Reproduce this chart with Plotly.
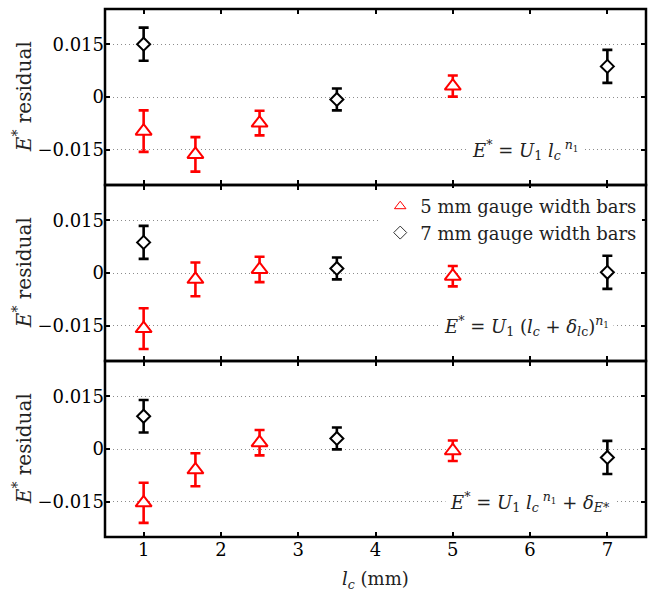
import plotly.graph_objects as go
from plotly.subplots import make_subplots

# ---- data ----
x_5mm = [1, 1.67, 2.5, 5]
x_7mm = [1, 3.5, 7]

# panel 1: E* = U1 lc^n1
res5_p1 = [-0.0097, -0.0163, -0.0074, 0.0031]
err5_p1 = [0.0059, 0.0049, 0.0035, 0.0030]
res7_p1 = [0.0150, -0.0007, 0.0087]
err7_p1 = [0.0047, 0.0031, 0.0047]

# panel 2: E* = U1 (lc + d_lc)^n1
res5_p2 = [-0.0158, -0.0018, 0.0010, -0.0009]
err5_p2 = [0.0058, 0.0048, 0.0036, 0.0029]
res7_p2 = [0.0087, 0.0013, 0.0002]
err7_p2 = [0.0047, 0.0031, 0.0047]

# panel 3: E* = U1 lc^n1 + d_E*
res5_p3 = [-0.0153, -0.0059, 0.0018, -0.0005]
err5_p3 = [0.0057, 0.0047, 0.0036, 0.0029]
res7_p3 = [0.0093, 0.0030, -0.0024]
err7_p3 = [0.0046, 0.0031, 0.0047]

x_ticks = [1, 2, 3, 4, 5, 6, 7]
y_ticks = [-0.015, 0, 0.015]
y_ticktext = ["\u22120.015", "0", "0.015"]

legend_names = ["5 mm gauge width bars", "7 mm gauge width bars"]
model_labels = [
    "<i>E</i><sup>*</sup> = <i>U</i><sub>1</sub> <i>l<sub>c</sub></i><sup> <i>n</i><sub>1</sub></sup>",
    "<i>E</i><sup>*</sup> = <i>U</i><sub>1</sub> (<i>l<sub>c</sub></i> + <i>\u03b4</i><sub><i>l</i>c</sub>)<sup><i>n</i><sub>1</sub></sup>",
    "<i>E</i><sup>*</sup> = <i>U</i><sub>1</sub> <i>l<sub>c</sub></i><sup> <i>n</i><sub>1</sub></sup> + <i>\u03b4</i><sub><i>E</i>*</sub>",
]
label_x = [5.93, 5.96, 6.0]

FONT = "DejaVu Serif"
FS = 18
RED = "#ff0000"
BLACK = "#000000"

fig = make_subplots(rows=3, cols=1, shared_xaxes=True, vertical_spacing=0)

panels = [
    (res5_p1, err5_p1, res7_p1, err7_p1),
    (res5_p2, err5_p2, res7_p2, err7_p2),
    (res5_p3, err5_p3, res7_p3, err7_p3),
]

for i, (r5, e5, r7, e7) in enumerate(panels, start=1):
    fig.add_trace(go.Scatter(
        x=x_5mm, y=r5, mode="markers", showlegend=False,
        marker=dict(symbol="triangle-up", size=14, color="white",
                    line=dict(color=RED, width=2)),
        error_y=dict(type="data", array=e5, visible=True, color=RED,
                     thickness=2.6, width=5),
    ), row=i, col=1)
    fig.add_trace(go.Scatter(
        x=x_7mm, y=r7, mode="markers", showlegend=False,
        marker=dict(symbol="diamond", size=10, color="white",
                    line=dict(color=BLACK, width=2)),
        error_y=dict(type="data", array=e7, visible=True, color=BLACK,
                     thickness=2.6, width=5),
    ), row=i, col=1)

# legend-only entries (thin markers as in the reference legend)
fig.add_trace(go.Scatter(
    x=[None], y=[None], mode="markers", name=legend_names[0],
    marker=dict(symbol="triangle-up-open", size=10, color=RED, line=dict(width=1)),
), row=2, col=1)
fig.add_trace(go.Scatter(
    x=[None], y=[None], mode="markers", name=legend_names[1],
    marker=dict(symbol="diamond-open", size=10, color="#333", line=dict(width=1)),
), row=2, col=1)

axis_common = dict(
    showline=False, mirror="ticks",
    ticks="inside", ticklen=5, tickwidth=2, tickcolor="black",
    tickfont=dict(family=FONT, size=FS, color="black"),
)

domains = [[2 / 3, 1.0], [1 / 3, 2 / 3], [0.0, 1 / 3]]
for i in range(1, 4):
    fig.update_xaxes(range=[0.5, 7.5], tickvals=x_ticks, showgrid=False,
                     zeroline=False, showticklabels=(i == 3), row=i, col=1,
                     **axis_common)
    fig.update_yaxes(range=[-0.025, 0.025], tickvals=y_ticks, ticktext=y_ticktext,
                     showgrid=True, gridcolor="#8c8c8c", gridwidth=1, griddash="1px,3px",
                     zeroline=False, domain=domains[i - 1], row=i, col=1,
                     **axis_common)

shapes = []
annotations = []
for i in range(3):
    xref = "x" if i == 0 else f"x{i+1}"
    yref = "y" if i == 0 else f"y{i+1}"
    shapes.append(dict(type="rect", xref=f"{xref} domain", yref=f"{yref} domain",
                       x0=0, x1=1, y0=0, y1=1, line=dict(color="black", width=2.5),
                       layer="above"))
    annotations.append(dict(
        x=label_x[i], y=-0.015, xref=xref, yref=yref, text=model_labels[i],
        showarrow=False, bgcolor="white", borderpad=4,
        font=dict(family=FONT, size=FS, color="#222"),
        xanchor="center", yanchor="middle",
    ))
    annotations.append(dict(
        x=-0.153, y=0.5, xref="paper", yref=f"{yref} domain",
        text="<i>E</i><sup>*</sup> residual", textangle=-90, showarrow=False,
        font=dict(family=FONT, size=20, color="#222"),
        xanchor="center", yanchor="middle",
    ))

annotations.append(dict(
    x=0.5, y=-0.081, xref="paper", yref="paper",
    text="<i>l<sub>c</sub></i> (mm)", showarrow=False,
    font=dict(family=FONT, size=FS, color="#222"),
    xanchor="center", yanchor="middle",
))

fig.update_layout(
    width=648, height=593,
    margin=dict(l=105, r=2, t=9, b=56),
    paper_bgcolor="white", plot_bgcolor="white",
    annotations=annotations, shapes=shapes,
    showlegend=True,
    legend=dict(x=0.993, xanchor="right", y=0.661, yanchor="top",
                bgcolor="white", borderwidth=0,
                font=dict(family=FONT, size=FS, color="#222"),
                tracegroupgap=0, itemwidth=30),
)

fig.write_html("out.html")
